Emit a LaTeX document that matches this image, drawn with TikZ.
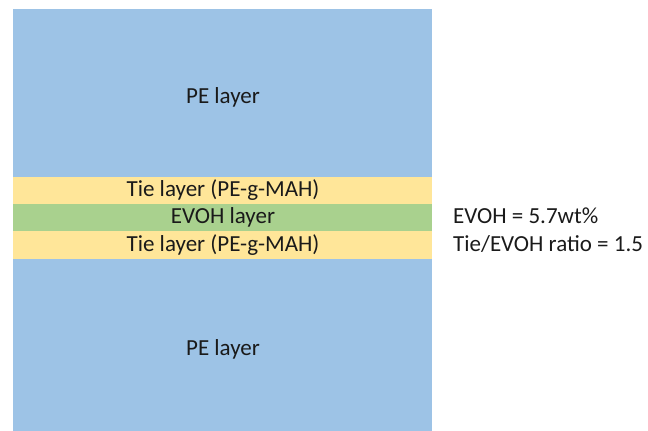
\documentclass[tikz,border=0pt]{standalone}
\usepackage{fontspec}
\setmainfont{Carlito}
\usepackage{tikz}
\usetikzlibrary{positioning}
\definecolor{peblue}{HTML}{9DC3E6}
\definecolor{tieyellow}{HTML}{FFE699}
\definecolor{evohgreen}{HTML}{A9D18E}
\definecolor{txt}{HTML}{1A1A1A}

\begin{document}
\begin{tikzpicture}[x=1pt, y=-1pt]
\tikzstyle{every node} = [text=txt, font=\fontsize{23}{27}\selectfont, inner sep=0pt]
\tikzstyle{layer} = [draw=none, minimum width=419pt, anchor=north west]
\tikzstyle{label} = [anchor=base]
\useasboundingbox (0,0) rectangle (648,431);
\node[layer, fill=peblue, minimum height=168pt] (petop) at (13,9) {};
\node[layer, fill=tieyellow, minimum height=28pt] (tietop) at (13,177) {};
\node[layer, fill=evohgreen, minimum height=27pt] (evoh) at (13,204) {};
\node[layer, fill=tieyellow, minimum height=29pt] (tiebot) at (13,231) {};
\node[layer, fill=peblue, minimum height=172pt] (pebot) at (13,259) {};
\node[label] (lpetop) at (223,103) {PE layer};
\node[label] (ltietop) at (223,196) {Tie layer (PE-g-MAH)};
\node[label] (levoh) at (223,223) {EVOH layer};
\node[label] (ltiebot) at (223,251) {Tie layer (PE-g-MAH)};
\node[label] (lpebot) at (223,355) {PE layer};
\node[anchor=base west] (info1) at (453,223) {EVOH = 5.7wt\%};
\node[anchor=base west] (info2) at (453,251) {Tie/EVOH ratio = 1.5};
\end{tikzpicture}
\end{document}
